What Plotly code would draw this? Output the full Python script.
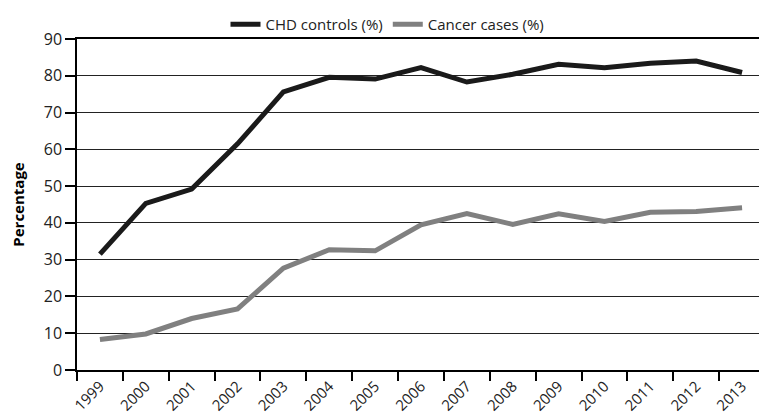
import plotly.graph_objects as go

years = ["1999", "2000", "2001", "2002", "2003", "2004", "2005", "2006",
         "2007", "2008", "2009", "2010", "2011", "2012", "2013"]
chd_controls = [31.5, 45.3, 49.2, 61.5, 75.6, 79.6, 79.1, 82.2,
                78.3, 80.4, 83.1, 82.2, 83.4, 84.0, 80.9]
cancer_cases = [8.3, 9.8, 14.0, 16.6, 27.7, 32.7, 32.4, 39.5,
                42.5, 39.6, 42.5, 40.4, 42.9, 43.1, 44.1]

font_family = "Open Sans, Noto Sans, sans-serif"

fig = go.Figure()

fig.add_trace(go.Scatter(
    x=years, y=chd_controls, mode="lines", name="CHD controls (%)",
    line=dict(color="#1a1a1a", width=5)
))
fig.add_trace(go.Scatter(
    x=years, y=cancer_cases, mode="lines", name="Cancer cases (%)",
    line=dict(color="#808080", width=5)
))

fig.update_xaxes(
    type="category",
    range=[-0.5, len(years) - 0.5],
    tickson="boundaries",
    ticks="outside", ticklen=9, tickcolor="black", tickwidth=1.5,
    showline=True, linecolor="black", linewidth=1.5,
    mirror=True,
    showgrid=False,
    tickangle=-45,
    tickfont=dict(size=15, color="#222"),
    automargin=False,
)
fig.update_yaxes(
    range=[0, 90], dtick=10,
    ticks="outside", ticklen=10, tickcolor="black", tickwidth=1.5,
    showline=True, linecolor="black", linewidth=1.5,
    mirror=True,
    showgrid=True, gridcolor="#222", gridwidth=1.2,
    zeroline=False,
    tickfont=dict(size=16, color="#222"),
    title=dict(text="<b>Percentage</b>", font=dict(size=15, color="black"), standoff=24),
    automargin=False,
)

# page body has an 8px margin, so shrink the figure and its margins to match
fig.update_layout(
    width=759, height=409,
    margin=dict(l=69, r=2, t=31, b=47, autoexpand=False),
    plot_bgcolor="white", paper_bgcolor="white",
    font=dict(family=font_family, color="black"),
    showlegend=True,
    legend=dict(orientation="h", xref="container", x=0.5, xanchor="center",
                yref="container", y=1.0, yanchor="top",
                bgcolor="rgba(0,0,0,0)",
                font=dict(size=15, color="#222"), itemwidth=30),
)

fig.write_html("out.html")
